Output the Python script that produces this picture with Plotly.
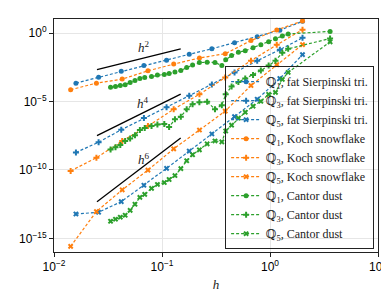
import math
import plotly.graph_objects as go

# ---------------- data ----------------
h_sierpinski = [0.01596, 0.02588, 0.04195, 0.0680, 0.1102, 0.1787, 0.2896, 0.4695, 0.7611, 1.2338, 2.0]
err_sierpinski_q1 = [2.24e-4, 6.0e-4, 1.66e-3, 4.27e-3, 1.07e-2, 2.88e-2, 7.24e-2, 0.20, 0.56, 1.66, 7.4]
err_sierpinski_q3 = [1.9e-9, 1.07e-8, 8.7e-8, 6.2e-7, 3.9e-6, 2.7e-5, 1.78e-4, 1.32e-3, 9.8e-3, 6.2e-2, 0.46]
err_sierpinski_q5 = [6.0e-14, 8.1e-14, 4.8e-13, 7.6e-12, 1.32e-10, 2.4e-9, 4.3e-8, 7.9e-7, 1.48e-5, 4.9e-4, 2.7e-2]

h_koch = [0.01426, 0.0247, 0.0428, 0.0741, 0.1283, 0.2222, 0.3849, 0.6667, 1.1547, 2.0]
err_koch_q1 = [7.4e-5, 2.24e-4, 4.4e-4, 1.78e-3, 5.5e-3, 1.55e-2, 3.16e-2, 0.29, 1.74, 7.8]
err_koch_q3 = [8.5e-11, 7.8e-10, 1.32e-8, 1.62e-7, 2.75e-6, 3.4e-5, 5.75e-4, 9.8e-3, 0.141, 1.82]
err_koch_q5 = [2.6e-16, 9.1e-14, 3.5e-12, 9.8e-11, 3.5e-9, 8.3e-8, 2.0e-6, 1.5e-4, 5.0e-3, 0.148]

h_cantor = [0.0334, 0.0371, 0.0411, 0.0456, 0.0507, 0.0562, 0.0624, 0.0692, 0.0800, 0.0907,
            0.1050, 0.1164, 0.1318, 0.1494, 0.1693, 0.1919, 0.2219, 0.2618, 0.3095, 0.3580,
            0.3890, 0.4409, 0.5097, 0.5898, 0.6966, 0.8227, 0.9716, 1.124, 1.300, 1.473, 3.60]
err_cantor_q1 = [1.10e-4, 1.29e-4, 1.48e-4, 1.74e-4, 2.5e-4, 3.5e-4, 4.9e-4, 5.75e-4, 6.8e-4, 8.7e-4,
                 9.5e-4, 1.12e-3, 1.45e-3, 1.86e-3, 3.1e-3, 4.7e-3, 7.1e-3, 7.6e-3, 7.1e-3, 4.4e-3,
                 1.17e-2, 2.3e-2, 4.1e-2, 5.2e-2, 8.5e-2, 0.141, 0.234, 0.39, 0.63, 0.89, 1.35]
err_cantor_q3 = [3.1e-9, 4.5e-9, 6.8e-9, 1.32e-8, 2.0e-8, 3.5e-8, 8.3e-8, 1.17e-7, 1.62e-7, 2.1e-7,
                 2.3e-7, 1.38e-7, 5.2e-7, 7.9e-7, 2.75e-6, 6.3e-6, 8.9e-6, 9.8e-6, 2.75e-6, 5.4e-6,
                 3.4e-5, 1.29e-4, 2.7e-4, 4.9e-4, 8.7e-4, 1.86e-3, 4.3e-3, 9.8e-3, 3.7e-2, 7.2e-2, 0.41]
err_cantor_q5 = [1.78e-14, 2.5e-14, 3.5e-14, 4.9e-14, 1.12e-13, 3.1e-13, 9.8e-13, 1.62e-12, 4.5e-12, 8.7e-12,
                 1.2e-11, 2.0e-11, 3.9e-11, 1.26e-10, 4.7e-10, 1.29e-9, 2.95e-9, 8.1e-9, 1.32e-8, 1.12e-8,
                 7.1e-8, 1.9e-7, 6.2e-7, 1.66e-6, 4.6e-6, 1.05e-5, 3.4e-5, 4.7e-5, 4.2e-4, 1.35e-3, 0.234]

ref_h = [0.025, 0.149]
ref_h2 = [2.19e-3, 7.2e-2]
ref_h4 = [3.24e-8, 3.55e-5]
ref_h6 = [4.8e-13, 2.2e-8]

x_tickvals = [1e-2, 1e-1, 1e0, 1e1]
x_ticktext = ["10<sup>−2</sup>", "10<sup>−1</sup>", "10<sup>0</sup>", "10<sup>1</sup>"]
y_tickvals = [1e0, 1e-5, 1e-10, 1e-15]
y_ticktext = ["10<sup>0</sup>", "10<sup>−5</sup>", "10<sup>−10</sup>", "10<sup>−15</sup>"]

# ---------------- style ----------------
BLUE, ORANGE, GREEN = "#1f77b4", "#ff7f0e", "#2ca02c"
SERIF = "Liberation Serif, DejaVu Serif, serif"
SANS = "Liberation Sans, Arial, sans-serif"

series = [
    (h_sierpinski, err_sierpinski_q1, BLUE, "circle", "ℚ<sub>1</sub>, fat Sierpinski tri."),
    (h_sierpinski, err_sierpinski_q3, BLUE, "cross", "ℚ<sub>3</sub>, fat Sierpinski tri."),
    (h_sierpinski, err_sierpinski_q5, BLUE, "x", "ℚ<sub>5</sub>, fat Sierpinski tri."),
    (h_koch, err_koch_q1, ORANGE, "circle", "ℚ<sub>1</sub>, Koch snowflake"),
    (h_koch, err_koch_q3, ORANGE, "cross", "ℚ<sub>3</sub>, Koch snowflake"),
    (h_koch, err_koch_q5, ORANGE, "x", "ℚ<sub>5</sub>, Koch snowflake"),
    (h_cantor, err_cantor_q1, GREEN, "circle", "ℚ<sub>1</sub>, Cantor dust"),
    (h_cantor, err_cantor_q3, GREEN, "cross", "ℚ<sub>3</sub>, Cantor dust"),
    (h_cantor, err_cantor_q5, GREEN, "x", "ℚ<sub>5</sub>, Cantor dust"),
]

fig = go.Figure()

for ry in (ref_h2, ref_h4, ref_h6):
    fig.add_trace(go.Scatter(x=ref_h, y=ry, mode="lines", line=dict(color="black", width=1.3),
                             showlegend=False, hoverinfo="skip"))

for hx, ey, col, sym, name in series:
    fig.add_trace(go.Scatter(
        x=hx, y=ey, mode="lines+markers", name=name,
        line=dict(color=col, width=1.2, dash="3px,2px"),
        marker=dict(color=col, symbol=sym, size=5 if sym == "circle" else 5,
                    line=dict(width=0)),
    ))

for txt, xx, yy in [("<i>h</i><sup>2</sup>", 0.0678, 0.10),
                    ("<i>h</i><sup>4</sup>", 0.066, 7.6e-6),
                    ("<i>h</i><sup>6</sup>", 0.068, 6.6e-10)]:
    fig.add_annotation(x=math.log10(xx), y=math.log10(yy), text=txt,
                       showarrow=False, font=dict(family=SERIF, size=13, color="#222"))

axis_common = dict(showline=True, mirror=True, linecolor="#222", linewidth=1,
                   showgrid=True, gridcolor="#e6e6e6", gridwidth=1,
                   ticks="outside", ticklen=4, tickcolor="#222",
                   zeroline=False, tickfont=dict(family=SANS, size=12, color="black"))

fig.update_xaxes(type="log", range=[-2, 1], tickvals=x_tickvals, ticktext=x_ticktext,
                 title=dict(text="<i>h</i>", font=dict(family=SERIF, size=13, color="#222"), standoff=6),
                 **axis_common)
fig.update_yaxes(type="log", range=[-16.0, 1.04], tickvals=y_tickvals, ticktext=y_ticktext,
                 **axis_common)

fig.update_layout(
    width=389, height=292,
    margin=dict(l=46, r=11, t=10, b=47),
    paper_bgcolor="white", plot_bgcolor="white",
    showlegend=True,
    legend=dict(x=0.988, xanchor="right", y=0.012, yanchor="bottom",
                bgcolor="rgba(255,255,255,0)", bordercolor="#222", borderwidth=1,
                font=dict(family=SERIF, size=12, color="#222"),
                itemwidth=30, tracegroupgap=0),
)

fig.write_html("out.html")
